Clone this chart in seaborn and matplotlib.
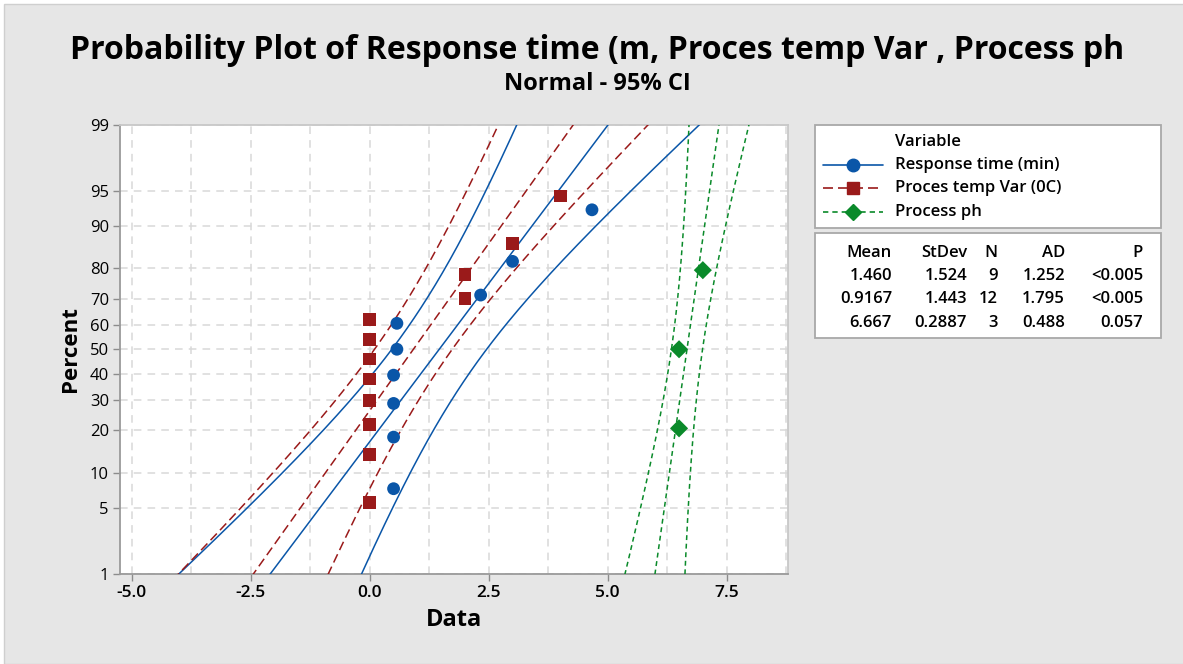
import numpy as np
import pandas as pd
import matplotlib
matplotlib.use("Agg")
import matplotlib.pyplot as plt
import seaborn as sns
from statistics import NormalDist
from matplotlib.lines import Line2D
from matplotlib.patches import Rectangle
from matplotlib.ticker import NullLocator

# ---------------- data ----------------
variables = ["Response time (min)", "Proces temp Var (0C)", "Process ph"]
resp_data = [0.5, 0.5, 0.5, 0.5, 0.57, 0.57, 2.33, 3.0, 4.67]
resp_pct = [7.4, 18.1, 28.7, 39.4, 50.0, 60.6, 71.3, 81.9, 92.6]
temp_data = [0, 0, 0, 0, 0, 0, 0, 0, 2, 2, 3, 4]
temp_pct = [5.6, 13.7, 21.8, 29.8, 37.9, 46.0, 54.0, 62.1, 70.2, 78.2, 86.3, 94.4]
ph_data = [6.5, 6.5, 7.0]
ph_pct = [20.6, 50.0, 79.4]
means = [1.460, 0.9167, 6.667]
stdevs = [1.524, 1.443, 0.2887]
ns = [9, 12, 3]
ad_vals = ["1.252", "1.795", "0.488"]
p_vals = ["<0.005", "<0.005", "0.057"]
mean_txt = ["1.460", "0.9167", "6.667"]
sd_txt = ["1.524", "1.443", "0.2887"]
pct_ticks = [1, 5, 10, 20, 30, 40, 50, 60, 70, 80, 90, 95, 99]
x_ticks = [-5.0, -2.5, 0.0, 2.5, 5.0, 7.5]
x_tick_labels = ["-5.0", "-2.5", "0.0", "2.5", "5.0", "7.5"]

colors = {variables[0]: "#0a56a8", variables[1]: "#9a1a1a", variables[2]: "#0a8a2a"}
markers = {variables[0]: "o", variables[1]: "s", variables[2]: "D"}
dashes = {variables[0]: "", variables[1]: (6, 3), variables[2]: (3.2, 2.4)}

nd = NormalDist()


def fwd(p):
    p = np.asarray(p, dtype=float)
    res = np.array([np.nan if np.isnan(v) else nd.inv_cdf(min(max(v / 100.0, 1e-12), 1 - 1e-12))
                    for v in p.ravel()])
    return res.reshape(p.shape)


def inv(z):
    z = np.asarray(z, dtype=float)
    res = np.array([np.nan if np.isnan(v) else nd.cdf(v) * 100.0 for v in z.ravel()])
    return res.reshape(z.shape)


# points
pts = pd.DataFrame({
    "x": resp_data + temp_data + ph_data,
    "pct": resp_pct + temp_pct + ph_pct,
    "var": [variables[0]] * len(resp_data) + [variables[1]] * len(temp_data) + [variables[2]] * len(ph_data),
})

# fitted lines with 95% CI (from the mean / stdev / N of the table)
zg = np.linspace(-2.6, 2.6, 300)
pg = inv(zg)
rows = []
for v, m, s, n in zip(variables, means, stdevs, ns):
    fit = m + zg * s
    se = s * np.sqrt(1.0 / n + zg ** 2 / (2.0 * n))
    for kind, xs in (("lo", fit - 1.96 * se), ("fit", fit), ("hi", fit + 1.96 * se)):
        rows.append(pd.DataFrame({"x": xs, "pct": pg, "var": v, "kind": kind}))
lines = pd.concat(rows, ignore_index=True)

# ---------------- figure ----------------
sns.set_theme(style="white")
plt.rcParams["font.family"] = ["Open Sans", "DejaVu Sans"]
plt.rcParams["text.color"] = "black"
plt.rcParams["axes.labelcolor"] = "black"
plt.rcParams["xtick.color"] = "black"
plt.rcParams["ytick.color"] = "black"

W, H = 1183, 664
fig = plt.figure(figsize=(W / 100, H / 100), dpi=100)
fig.patch.set_facecolor("white")
fig.add_artist(Rectangle((4 / W, 0), 1, 1 - 4 / H, transform=fig.transFigure,
                         facecolor="#e6e6e6", edgecolor="#cfcfcf", lw=1.0, zorder=-10))

ax = fig.add_axes([120 / W, 1 - 573.5 / H, (788 - 120) / W, (573.5 - 125) / H])
ax.set_facecolor("white")

ax.set_yscale("function", functions=(fwd, inv))

sns.lineplot(data=lines, x="x", y="pct", hue="var", style="var", units="kind",
             estimator=None, sort=False, palette=colors, dashes=dashes,
             lw=1.1, legend=False, ax=ax, zorder=3)
sns.scatterplot(data=pts, x="x", y="pct", hue="var", style="var", markers=markers,
                palette=colors, s=85, linewidth=0, legend=False, ax=ax, zorder=4)

ax.set_xlim(-5.25, 8.79)
ax.set_ylim(1, 99)
ax.set_yticks(pct_ticks)
ax.set_yticklabels([str(t) for t in pct_ticks], fontsize=12, fontweight="medium")
ax.yaxis.set_minor_locator(NullLocator())
ax.set_xticks(x_ticks)
ax.set_xticklabels(x_tick_labels, fontsize=12.5, fontweight="semibold")
ax.set_xticks(np.arange(-5.0, 8.8, 1.25), minor=True)
ax.tick_params(axis="x", which="minor", length=0)
ax.tick_params(axis="both", which="major", length=5, width=1, color="#8c8c8c",
               direction="out", left=True, bottom=True, pad=3, labelcolor="black")

ax.grid(True, axis="x", which="both", ls=(0, (5, 4)), color="#d9d9d9", lw=1.1)
ax.grid(True, axis="y", which="major", ls=(0, (5, 4)), color="#d9d9d9", lw=1.1)
ax.set_axisbelow(True)
for side in ["left", "bottom", "right", "top"]:
    ax.spines[side].set_visible(True)
    ax.spines[side].set_color("#9a9a9a")
    ax.spines[side].set_linewidth(1.3)
ax.spines["top"].set_color("#c8c8c8")
ax.spines["right"].set_color("#c8c8c8")

ax.set_xlabel("Data", fontsize=17, fontweight="bold", labelpad=5, color="black")
ax.set_ylabel("Percent", fontsize=16, fontweight="bold", labelpad=6, color="black")

fig.text(0.505, 1 - 59 / H, "Probability Plot of Response time (m, Proces temp Var , Process ph",
         ha="center", va="baseline", fontsize=23, fontweight="bold", color="black")
fig.text(0.505, 1 - 90 / H, "Normal - 95% CI", ha="center", va="baseline",
         fontsize=17, fontweight="bold", color="black")

# ---------------- legend box ----------------
fig.add_artist(Rectangle((815 / W, 1 - 228 / H), (1161 - 815) / W, (228 - 125) / H,
                         transform=fig.transFigure, facecolor="white",
                         edgecolor="#a8a8a8", lw=1.3))
fig.text(895 / W, 1 - 142 / H, "Variable", ha="left", va="center", fontsize=12,
         fontweight="semibold", color="black")
leg_y = [165, 188, 212]
for v, yy in zip(variables, leg_y):
    yf = 1 - yy / H
    ln = Line2D([823 / W, 883 / W], [yf, yf], transform=fig.transFigure,
                color=colors[v], lw=1.2)
    if dashes[v] != "":
        ln.set_dashes(dashes[v])
    fig.add_artist(ln)
    fig.add_artist(Line2D([853 / W], [yf], transform=fig.transFigure, marker=markers[v],
                          color=colors[v], ms=9 if markers[v] != "D" else 8, ls="none"))
    fig.text(895 / W, yf, v, ha="left", va="center", fontsize=12, fontweight="semibold",
             color="black")

# ---------------- stats table ----------------
fig.add_artist(Rectangle((815 / W, 1 - 338 / H), (1161 - 815) / W, (338 - 233) / H,
                         transform=fig.transFigure, facecolor="white",
                         edgecolor="#a8a8a8", lw=1.3))
col_x = [892, 967, 998, 1065, 1143]
headers = ["Mean", "StDev", "N", "AD", "P"]
row_y = [253, 276, 299, 323]
for cx, h in zip(col_x, headers):
    fig.text(cx / W, 1 - row_y[0] / H, h, ha="right", va="center", fontsize=12,
             fontweight="semibold", color="black")
for i in range(3):
    vals = [mean_txt[i], sd_txt[i], str(ns[i]), ad_vals[i], p_vals[i]]
    for cx, t in zip(col_x, vals):
        fig.text(cx / W, 1 - row_y[i + 1] / H, t, ha="right", va="center", fontsize=12,
                 fontweight="semibold", color="black")

fig.savefig("out.png", dpi=100, facecolor=fig.get_facecolor())
